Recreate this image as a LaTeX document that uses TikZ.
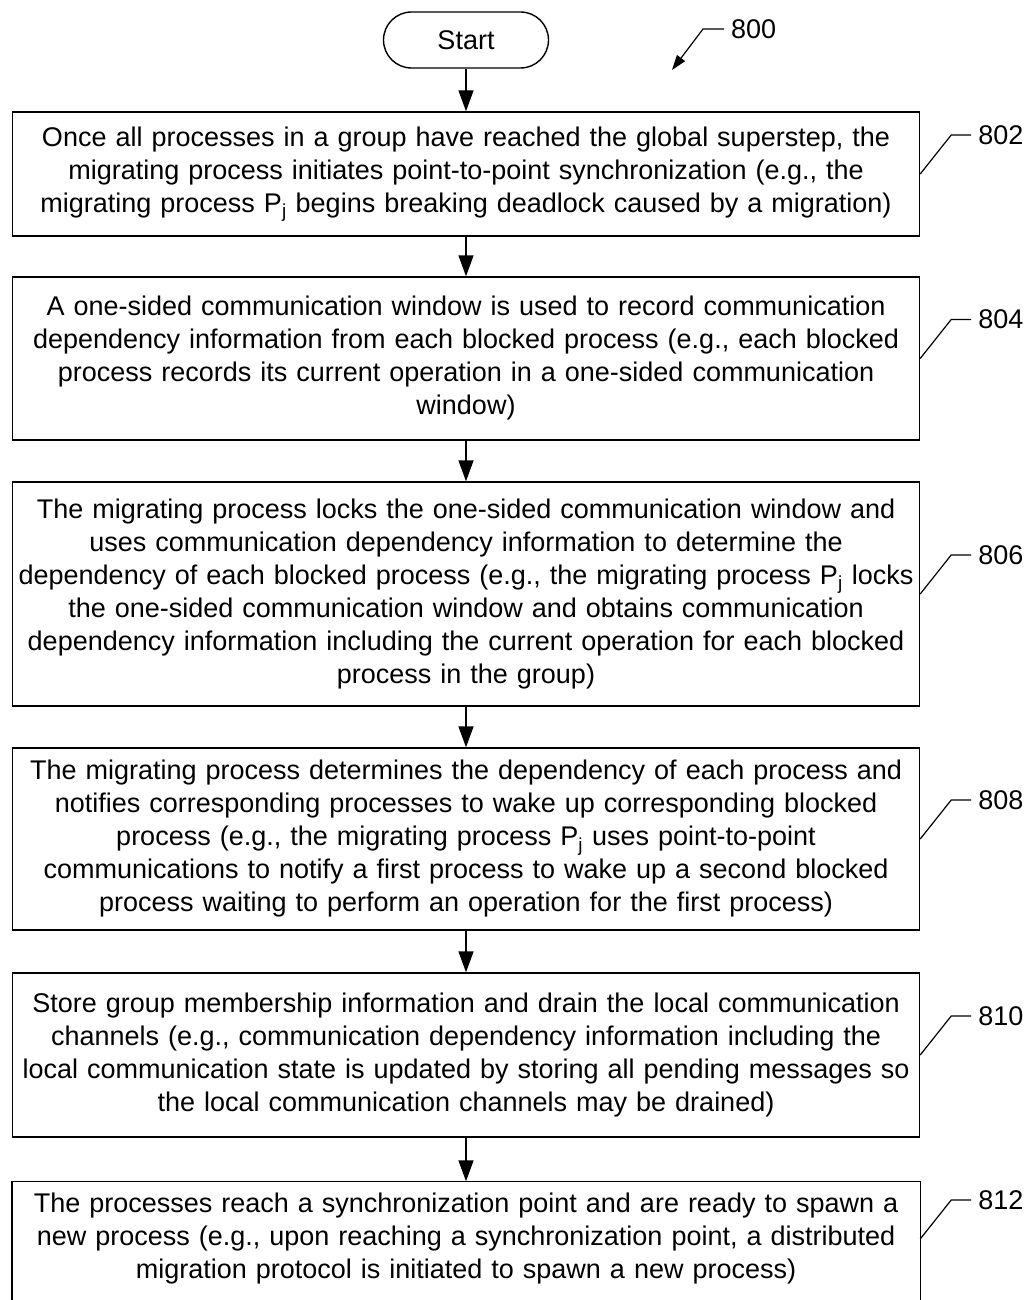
\documentclass[tikz,border=0pt]{standalone}
\usepackage{fontspec}
\setmainfont{Liberation Sans}
\usetikzlibrary{arrows.meta}

\begin{document}
\begin{tikzpicture}[
    x=1pt, y=-1pt,
    stepbox/.style={rectangle, draw, line width=1.4pt, text width=902pt, inner xsep=2.5pt, align=center, font=\fontsize{27}{33}\selectfont},
    startbox/.style={rectangle, draw, line width=1.4pt, rounded corners=28pt, minimum width=165pt, minimum height=56pt, font=\fontsize{27}{30}\selectfont},
    flow/.style={-{Triangle[length=21pt,width=15pt]}, line width=1.4pt},
    reflabel/.style={anchor=west, inner xsep=7pt, inner ysep=2pt, font=\fontsize{27}{30}\selectfont},
    lead/.style={line width=1.2pt}
]
    \useasboundingbox (0,0) rectangle (1029,1300);

    % Start
    \node[startbox] (start) at (466,40) {Start};

    % Figure number
    \node[reflabel] (r800) at (724,29) {800};
    \coordinate (p800) at (672,70);
    \draw[lead, -{Triangle[length=15pt,width=10pt]}] (r800.west) -- ++(-21,0) -- (p800);

    % Steps
    \node[stepbox, minimum height=124pt] (b802) at (466,174) {Once all processes in a group have reached the global superstep, the\\ migrating process initiates point-to-point synchronization (e.g., the\\ migrating process P\textsubscript{j} begins breaking deadlock caused by a migration)};

    \node[stepbox, minimum height=163pt] (b804) at (466,358.5) {A one-sided communication window is used to record communication\\ dependency information from each blocked process (e.g., each blocked\\ process records its current operation in a one-sided communication\\ window)};

    \node[stepbox, minimum height=224pt] (b806) at (466,594) {The migrating process locks the one-sided communication window and\\ uses communication dependency information to determine the\\ dependency of each blocked process (e.g., the migrating process P\textsubscript{j} locks\\ the one-sided communication window and obtains communication\\ dependency information including the current operation for each blocked\\ process in the group)};

    \node[stepbox, minimum height=182pt] (b808) at (466,839) {The migrating process determines the dependency of each process and\\ notifies corresponding processes to wake up corresponding blocked\\ process (e.g., the migrating process P\textsubscript{j} uses point-to-point\\ communications to notify a first process to wake up a second blocked\\ process waiting to perform an operation for the first process)};

    \node[stepbox, minimum height=164pt] (b810) at (466,1055) {Store group membership information and drain the local communication\\ channels (e.g., communication dependency information including the\\ local communication state is updated by storing all pending messages so\\ the local communication channels may be drained)};

    % last box runs off the bottom of the page
    \node[stepbox, draw=none, minimum height=114pt] (b812) at (466,1239) {The processes reach a synchronization point and are ready to spawn a\\ new process (e.g., upon reaching a synchronization point, a distributed\\ migration protocol is initiated to spawn a new process)};
    \draw[line width=1.4pt] (b812.north west) rectangle ([yshift=-20pt]b812.south east);

    % Flow
    \draw[flow] (start) -- (b802);
    \draw[flow] (b802) -- (b804);
    \draw[flow] (b804) -- (b806);
    \draw[flow] (b806) -- (b808);
    \draw[flow] (b808) -- (b810);
    \draw[flow] (b810) -- (b812);

    % Reference numerals
    \foreach \n in {802,804,806,808,810,812} {
        \node[reflabel] (r\n) at ([shift={(51,-39)}]b\n.east) {\n};
        \draw[lead] (r\n.west) -- ++(-20,0) -- (b\n.east);
    }
\end{tikzpicture}
\end{document}
